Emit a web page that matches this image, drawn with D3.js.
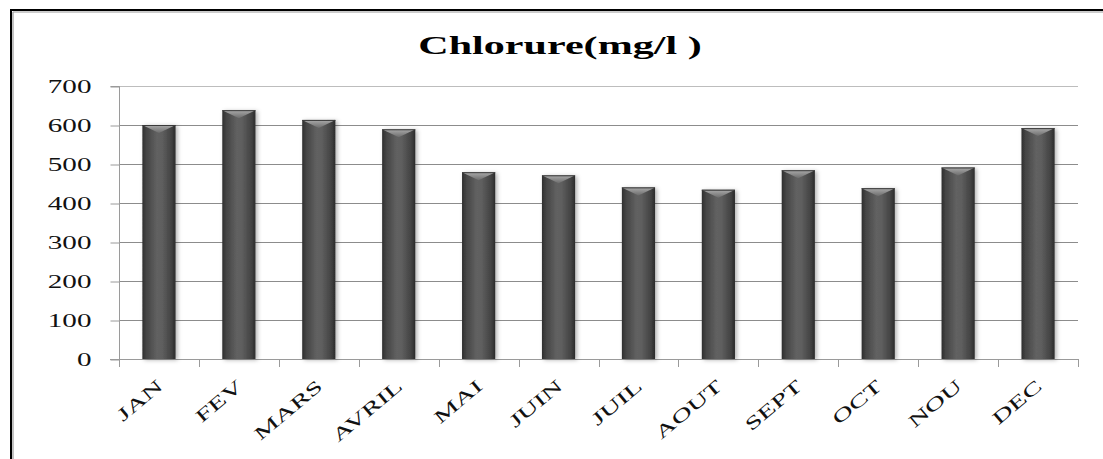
<!DOCTYPE html>
<html>
<head>
<meta charset="utf-8">
<script src="https://cdn.jsdelivr.net/npm/d3@7"></script>
<style>
  html, body { margin: 0; padding: 0; background: #fff; }
  svg { display: block; }
</style>
</head>
<body>
<svg id="chart" width="1103" height="459"></svg>
<script>
const categories = ["JAN", "FEV", "MARS", "AVRIL", "MAI", "JUIN", "JUIL", "AOUT", "SEPT", "OCT", "NOU", "DEC"];
const values = [600, 638, 613, 589, 479, 471, 440, 434, 484, 438, 491, 592];
const yTicks = [0, 100, 200, 300, 400, 500, 600, 700];
const title = "Chlorure(mg/l )";

const svg = d3.select("#chart");
const margin = { left: 119, right: 1078, top: 86, bottom: 359 };
const serif = "'Liberation Serif', 'Times New Roman', serif";
const stretch = 1.62;

const defs = svg.append("defs");
const g1 = defs.append("linearGradient").attr("id", "barGrad").attr("x1", "0").attr("x2", "1").attr("y1", "0").attr("y2", "0");
[[0, "#2e2e2e"], [0.12, "#444"], [0.45, "#626262"], [0.6, "#5e5e5e"], [0.88, "#424242"], [1, "#2a2a2a"]]
  .forEach(([o, c]) => g1.append("stop").attr("offset", o).attr("stop-color", c));
const g2 = defs.append("linearGradient").attr("id", "capGrad").attr("x1", "0").attr("x2", "0").attr("y1", "0").attr("y2", "1");
[[0, "#ababab"], [1, "#6c6c6c"]].forEach(([o, c]) => g2.append("stop").attr("offset", o).attr("stop-color", c));
const f = defs.append("filter").attr("id", "shadow").attr("x", "-30%").attr("y", "-10%").attr("width", "160%").attr("height", "130%");
f.append("feDropShadow").attr("dx", 2).attr("dy", 1).attr("stdDeviation", 2).attr("flood-color", "#000").attr("flood-opacity", 0.3);

// frame
svg.append("rect").attr("x", 11).attr("y", 10).attr("width", 1300).attr("height", 700)
  .attr("fill", "none").attr("stroke", "#000").attr("stroke-width", 2);
svg.append("line").attr("x1", 13).attr("x2", 1103).attr("y1", 12).attr("y2", 12).attr("stroke", "#999").attr("stroke-width", 1.2);
svg.append("line").attr("x1", 13).attr("x2", 13).attr("y1", 12).attr("y2", 459).attr("stroke", "#999").attr("stroke-width", 1.2);

const x = d3.scaleBand().domain(categories).range([margin.left, margin.right]).paddingInner(0.585).paddingOuter(0.2925);
const y = d3.scaleLinear().domain([0, 700]).range([margin.bottom, margin.top]);

// gridlines
svg.append("g").selectAll("line").data(yTicks.filter(d => d > 0)).join("line")
  .attr("x1", margin.left).attr("x2", margin.right)
  .attr("y1", d => y(d) + 0.5).attr("y2", d => y(d) + 0.5)
  .attr("stroke", d => d === 700 ? "#bdbdbd" : "#8c8c8c").attr("stroke-width", 1);

// y axis
const yAxis = d3.axisLeft(y).tickValues(yTicks).tickSize(9).tickPadding(0).tickFormat(d3.format("d"));
const ya = svg.append("g").attr("transform", `translate(${margin.left + 0.5},0.5)`).call(yAxis);
ya.select(".domain").attr("stroke", "#9a9a9a").attr("d", `M-9,${margin.top}H0V${margin.bottom}H-9`);
ya.selectAll(".tick line").attr("stroke", "#9a9a9a");
ya.selectAll(".tick text")
  .attr("x", null).attr("dy", "0.35em")
  .attr("transform", `translate(-28,0) scale(${stretch},1)`)
  .attr("font-family", serif).attr("font-size", 18).attr("fill", "#111");

// x axis line & ticks at category boundaries
const boundaries = d3.range(categories.length + 1).map(i => margin.left + i * (margin.right - margin.left) / categories.length);
svg.append("line").attr("x1", margin.left - 9).attr("x2", margin.right).attr("y1", margin.bottom + 0.5).attr("y2", margin.bottom + 0.5).attr("stroke", "#9a9a9a");
svg.append("g").selectAll("line").data(boundaries).join("line")
  .attr("x1", d => Math.round(d) + 0.5).attr("x2", d => Math.round(d) + 0.5)
  .attr("y1", margin.bottom).attr("y2", margin.bottom + 8).attr("stroke", "#9a9a9a");

// bars
const bars = svg.append("g").selectAll("g").data(categories.map((c, i) => ({ c, v: values[i] }))).join("g");
bars.append("rect")
  .attr("x", d => x(d.c)).attr("width", x.bandwidth())
  .attr("y", d => y(d.v)).attr("height", d => y(0) - y(d.v))
  .attr("fill", "url(#barGrad)").attr("filter", "url(#shadow)");
bars.append("path")
  .attr("d", d => {
    const x0 = x(d.c), x1 = x0 + x.bandwidth(), t = y(d.v), cx = (x0 + x1) / 2;
    return `M${x0},${t}H${x1}L${x1 - 4},${t + 2}L${cx},${t + 8}L${x0 + 4},${t + 2}Z`;
  })
  .attr("fill", "url(#capGrad)");
bars.append("line")
  .attr("x1", d => x(d.c)).attr("x2", d => x(d.c) + x.bandwidth())
  .attr("y1", d => y(d.v) + 0.5).attr("y2", d => y(d.v) + 0.5)
  .attr("stroke", "#3a3a3a").attr("stroke-width", 1);

// x labels
svg.append("g").selectAll("text").data(categories).join("text")
  .attr("transform", d => `translate(${x(d) + x.bandwidth() / 2 + 5},${margin.bottom + 29}) rotate(-40) scale(${stretch},1)`)
  .attr("text-anchor", "end")
  .attr("font-family", serif).attr("font-size", 18).attr("fill", "#111")
  .text(d => d);

// title
svg.append("text").attr("transform", `translate(560,54) scale(${stretch},1)`).attr("text-anchor", "middle")
  .attr("font-family", serif).attr("font-weight", "bold").attr("font-size", 26)
  .attr("fill", "#000").text(title);
</script>
</body>
</html>
